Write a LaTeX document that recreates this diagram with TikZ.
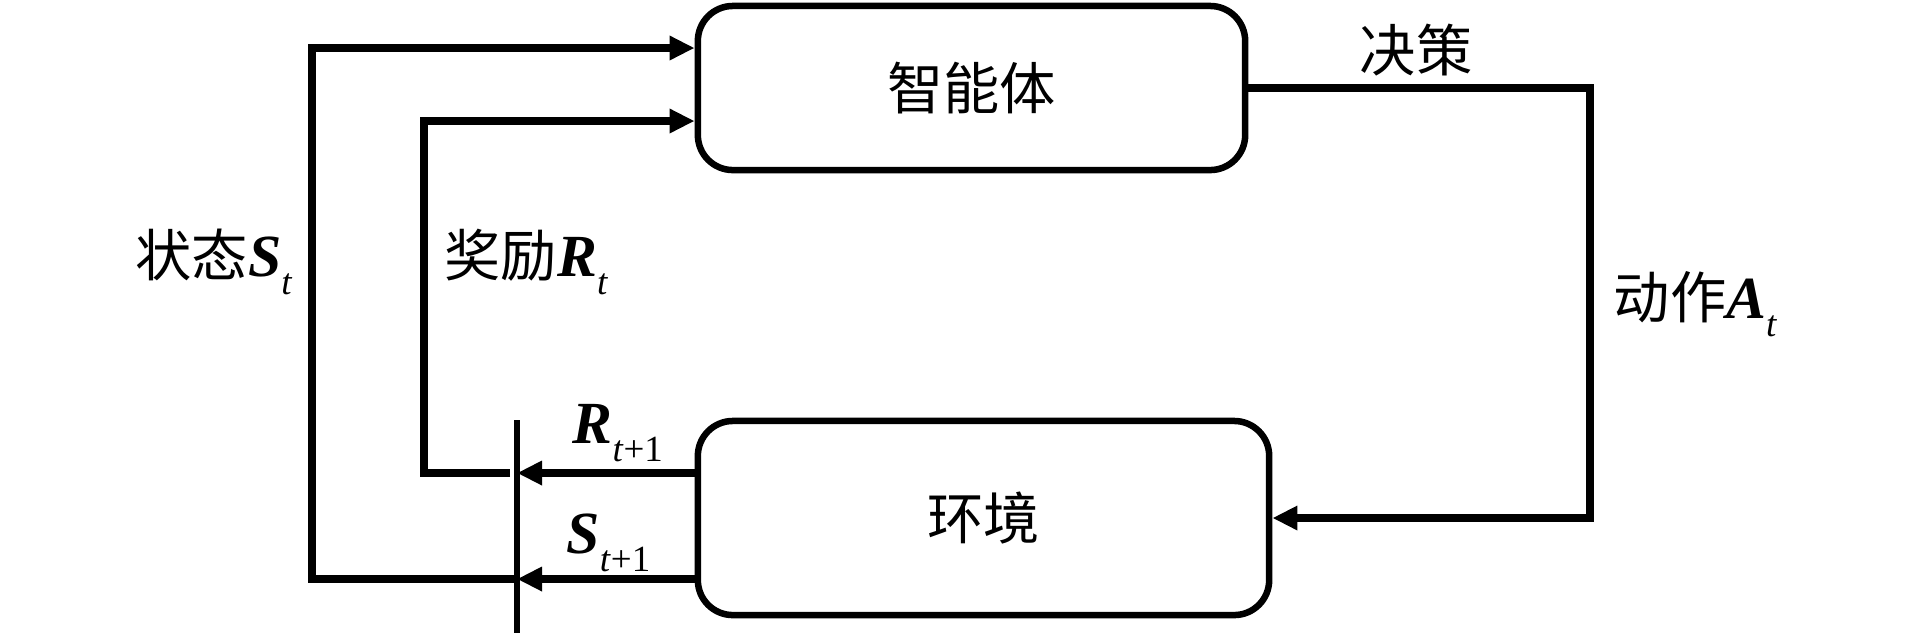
\documentclass[tikz,border=0pt]{standalone}
\usepackage{fontspec}
\setmainfont{Liberation Serif}
\newfontfamily\cjk{Noto Sans CJK SC}
\usetikzlibrary{arrows.meta}
\newcommand\mysub[1]{\raisebox{-5.2pt}{\fontsize{10.5}{11}\selectfont #1}}
\newcommand\mysym[1]{{\fontsize{17}{18}\selectfont\bfseries\itshape #1}}
\begin{document}
\begin{tikzpicture}[x=0.01cm,y=-0.01cm,
  box/.style={draw, line width=0.065cm, rounded corners=0.35cm, font=\fontsize{16}{18}\selectfont\cjk},
  flow/.style={line width=0.08cm, -{Triangle[length=0.25cm,width=0.23cm]}},
  barline/.style={line width=0.055cm},
  lbl/.style={inner sep=0pt, font=\fontsize{16}{18}\selectfont}]
\useasboundingbox (0,0) rectangle (1913,638);
\node[box, minimum width=5.47cm, minimum height=1.64cm] (agent) at (971.5,88) {智能体};
\node[box, minimum width=5.71cm, minimum height=1.94cm] (env) at (983.5,518) {环境};
% action loop
\coordinate (dec) at (1590,88);
\draw[flow] (agent.east) -- (dec) |- (env.east);
% bar
\coordinate (bartop) at (517,420);
\coordinate (barbot) at (517,633);
\draw[barline] (bartop) -- (barbot);
\coordinate (rr) at (517,473);
\coordinate (ss) at (517,579);
\draw[flow] (env.west |- rr) -- (rr);
\draw[flow] (env.west |- ss) -- (ss);
% reward feedback
\coordinate (rstart) at (510,473);
\coordinate (rcorner) at (424,121);
\draw[flow] (rstart) -| (rcorner) -- (agent.west |- rcorner);
% state feedback
\coordinate (scorner) at (312,48);
\draw[flow] (ss) -| (scorner) -- (agent.west |- scorner);
% labels
\node[lbl, anchor=base west] (lstate) at (135,276) {{\cjk 状态}\mysym{S}\mysub{\textit{t}}};
\node[lbl, anchor=base west] (lreward) at (444,276) {{\cjk 奖励}\mysym{R}\mysub{\textit{t}}};
\node[lbl, anchor=center] (ldec) at (1416,50) {\cjk 决策};
\node[lbl, anchor=base west] (lact) at (1613,318) {{\cjk 动作}\mysym{A}\mysub{\textit{t}}};
\node[lbl, anchor=base west] (lr1) at (572,443) {\mysym{R}\mysub{\textit{t}+1}};
\node[lbl, anchor=base west] (ls1) at (566,553) {\mysym{S}\mysub{\textit{t}+1}};
\end{tikzpicture}
\end{document}
